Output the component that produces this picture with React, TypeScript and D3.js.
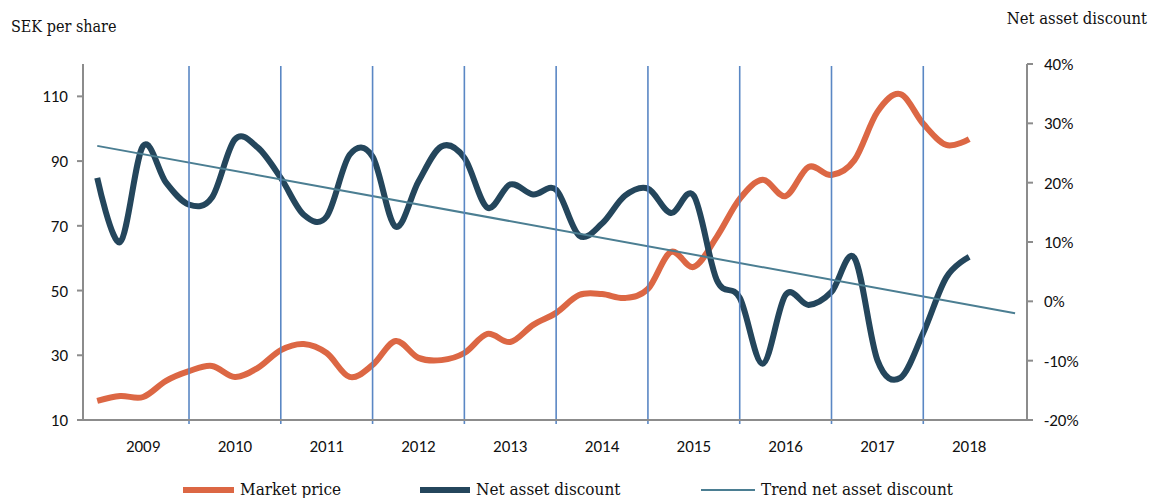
import React from "react";
import * as d3 from "d3";

// ---- data ----
const quarters = [
  "2009Q1", "2009Q2", "2009Q3", "2009Q4",
  "2010Q1", "2010Q2", "2010Q3", "2010Q4",
  "2011Q1", "2011Q2", "2011Q3", "2011Q4",
  "2012Q1", "2012Q2", "2012Q3", "2012Q4",
  "2013Q1", "2013Q2", "2013Q3", "2013Q4",
  "2014Q1", "2014Q2", "2014Q3", "2014Q4",
  "2015Q1", "2015Q2", "2015Q3", "2015Q4",
  "2016Q1", "2016Q2", "2016Q3", "2016Q4",
  "2017Q1", "2017Q2", "2017Q3", "2017Q4",
  "2018Q1", "2018Q2", "2018Q3",
];

// SEK per share (left axis)
const marketPrice = [
  15.9, 17.4, 17.1, 22.1,
  25.1, 26.7, 23.3, 26.1,
  31.6, 33.5, 30.7, 23.3,
  27.0, 34.4, 29.2, 28.5,
  30.7, 36.6, 34.1, 39.4,
  43.1, 48.6, 48.9, 47.7,
  50.5, 61.9, 57.3, 66.6,
  78.3, 84.2, 79.2, 88.2,
  85.7, 90.3, 105.2, 110.7,
  101.5, 95.0, 96.8,
];

// Net asset discount, % (right axis)
const netAssetDiscount = [
  20.8, 10.0, 26.2, 20.0,
  16.3, 17.5, 27.3, 25.9,
  20.8, 14.6, 14.3, 24.7,
  24.4, 12.6, 20.2, 26.1,
  24.2, 15.8, 19.7, 18.0,
  18.8, 11.1, 13.1, 17.8,
  19.0, 14.9, 17.8, 3.6,
  0.6, -10.5, 1.1, -0.6,
  1.6, 7.3, -9.9, -12.9,
  -5.3, 4.0, 7.5,
];

// Linear trend of the net asset discount (end points)
const trendDates = ["2009Q1", "2019Q1"];
const trendValues = [26.2, -2.0];

const yearLabels = ["2009", "2010", "2011", "2012", "2013", "2014", "2015", "2016", "2017", "2018"];
const yearDividers = ["2010", "2011", "2012", "2013", "2014", "2015", "2016", "2017", "2018"];
const leftTicks = [10, 30, 50, 70, 90, 110];
const rightTicks = [-20, -10, 0, 10, 20, 30, 40];

const legendItems = [
  { label: "Market price", color: "#DC6744", width: 6 },
  { label: "Net asset discount", color: "#24465C", width: 6 },
  { label: "Trend net asset discount", color: "#4B7E92", width: 2 },
];

// ---- layout ----
const W = 1149;
const H = 498;
const plotLeft = 83;
const plotRight = 1027;
const plotTop = 64;
const plotBottom = 420;

const sansFont = "Carlito, Lato, 'Open Sans', sans-serif";
const serifFont = "'DejaVu Serif Condensed', 'Liberation Serif', serif";

const qToYear = (q: string) => +q.slice(0, 4) + (+q.slice(5) - 1) * 0.25;

export default function App() {
  const x = d3.scaleLinear().domain([2008.845, 2019.13]).range([plotLeft, plotRight]);
  const yL = d3.scaleLinear().domain([10, 120]).range([plotBottom, plotTop]);
  const yR = d3.scaleLinear().domain([-20, 40]).range([plotBottom, plotTop]);

  const curve = d3.curveCardinal.tension(0);
  const priceLine = d3
    .line<number>()
    .x((_, i) => x(qToYear(quarters[i])))
    .y((d) => yL(d))
    .curve(curve);
  const navLine = d3
    .line<number>()
    .x((_, i) => x(qToYear(quarters[i])))
    .y((d) => yR(d))
    .curve(curve);
  const trendLine = d3
    .line<number>()
    .x((_, i) => x(qToYear(trendDates[i])))
    .y((d) => yR(d));

  const axisColor = "#8C8C8C";
  const legendX = [183, 420, 701];
  const legendSwatch = [51, 50, 54];

  return (
    <svg
      width={W}
      height={H}
      style={{ position: "absolute", left: 0, top: 0, background: "#fff" }}
    >
      {/* axis titles */}
      <text x={11} y={32} fontFamily={serifFont} fontSize={16} fill="#111">
        SEK per share
      </text>
      <text x={1147} y={24} textAnchor="end" fontFamily={serifFont} fontSize={16.5} fill="#111">
        Net asset discount
      </text>

      {/* series */}
      <path d={priceLine(marketPrice) || ""} fill="none" stroke="#DC6744" strokeWidth={6} />
      <path d={navLine(netAssetDiscount) || ""} fill="none" stroke="#24465C" strokeWidth={6} />
      <path d={trendLine(trendValues) || ""} fill="none" stroke="#4B7E92" strokeWidth={2} />

      {/* year dividers */}
      {yearDividers.map((yr) => (
        <line
          key={yr}
          x1={x(+yr)}
          x2={x(+yr)}
          y1={66}
          y2={424}
          stroke="#5A87C4"
          strokeWidth={1.6}
        />
      ))}

      {/* left axis */}
      <line x1={plotLeft} x2={plotLeft} y1={plotTop} y2={plotBottom} stroke={axisColor} strokeWidth={2} />
      {leftTicks.map((t) => (
        <g key={t}>
          <line x1={plotLeft - 6} x2={plotLeft} y1={yL(t)} y2={yL(t)} stroke={axisColor} strokeWidth={2} />
          <text
            x={68}
            y={yL(t) + 6}
            textAnchor="end"
            fontFamily={sansFont}
            fontSize={17}
            fill="#111"
          >
            {t}
          </text>
        </g>
      ))}

      {/* right axis */}
      <line x1={plotRight} x2={plotRight} y1={plotTop} y2={plotBottom} stroke={axisColor} strokeWidth={2} />
      {rightTicks.map((t) => (
        <g key={t}>
          <line x1={plotRight} x2={plotRight + 6} y1={yR(t)} y2={yR(t)} stroke={axisColor} strokeWidth={2} />
          <text x={1044} y={yR(t) + 6} fontFamily={sansFont} fontSize={17} fill="#111">
            {`${t}%`}
          </text>
        </g>
      ))}

      {/* bottom axis */}
      <line x1={plotLeft} x2={plotRight} y1={plotBottom} y2={plotBottom} stroke={axisColor} strokeWidth={2} />
      {yearLabels.map((yr) => (
        <text
          key={yr}
          x={x(+yr + 0.5)}
          y={452}
          textAnchor="middle"
          fontFamily={sansFont}
          fontSize={17}
          fill="#111"
        >
          {yr}
        </text>
      ))}

      {/* legend */}
      {legendItems.map((item, i) => (
        <g key={item.label}>
          <line
            x1={legendX[i]}
            x2={legendX[i] + legendSwatch[i]}
            y1={490}
            y2={490}
            stroke={item.color}
            strokeWidth={item.width}
          />
          <text
            x={legendX[i] + legendSwatch[i] + 6}
            y={495}
            fontFamily={serifFont}
            fontSize={17}
            fill="#111"
          >
            {item.label}
          </text>
        </g>
      ))}
    </svg>
  );
}
